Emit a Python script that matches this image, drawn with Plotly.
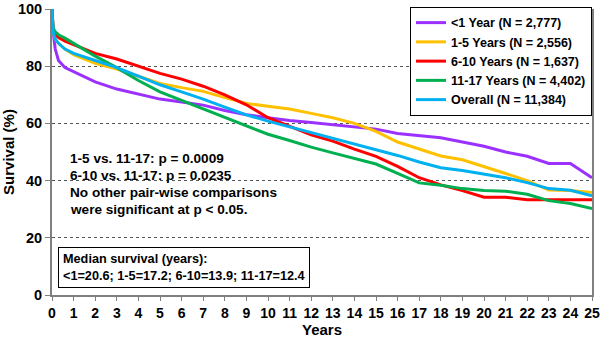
import plotly.graph_objects as go

years = [0, 0.05, 0.15, 0.3, 0.6, 1, 2, 3, 4, 5, 6, 7, 8, 9, 10, 11, 12, 13, 14, 15,
         16, 17, 18, 19, 20, 21, 22, 23, 24, 25]

lt1 = [100, 92, 86, 82, 79.5, 78, 74.5, 72, 70.2, 68.5, 67.5, 66.4, 64.5, 63, 62, 61,
       60.3, 59.5, 58.8, 58, 56.5, 55.8, 55, 53.5, 52, 50, 48.5, 46, 46, 41]
y1_5 = [100, 92, 89.5, 88, 86, 84, 81, 79, 76.5, 74, 72.5, 71.2, 69, 67, 66, 65,
        63.5, 62, 60, 57.2, 53.5, 51, 48.6, 47.3, 45, 42.5, 40, 36.7, 36.5, 35.8]
y6_10 = [100, 93, 91, 90, 88.8, 87.5, 84.5, 82.5, 80, 77.5, 75.5, 73, 70, 66.5, 62, 59,
         56, 53.8, 51, 48.5, 45, 41, 38.5, 36.5, 34.2, 34.2, 33.3, 33.3, 33.3, 33.3]
y11_17 = [100, 93.5, 92, 91, 89.8, 88, 83.5, 79.5, 75, 71, 68, 65, 62, 59, 56.2, 54,
          51.7, 49.7, 47.8, 45.8, 42.5, 39.2, 38.4, 37.2, 36.5, 36.3, 35.2, 33, 32, 30.2]
overall = [100, 92, 89.5, 88, 86, 84.5, 82, 79.5, 76.5, 73.5, 71, 68.5, 65.7, 63, 60.8, 58.8,
           57, 54.9, 53, 51, 48.8, 46.5, 44.5, 43.5, 42.3, 41, 39.3, 37.2, 36.6, 34.7]

names = ["<1 Year (N = 2,777)", "1-5 Years (N = 2,556)", "6-10 Years (N = 1,637)",
         "11-17 Years (N = 4,402)", "Overall (N = 11,384)"]
series = [lt1, y1_5, y6_10, y11_17, overall]
colors = ["#9B30FF", "#FFC000", "#FF0000", "#00B050", "#00B0F0"]

stats_lines = ["1-5 vs. 11-17: p = 0.0009", "6-10 vs. 11-17: p = 0.0235",
               "No other pair-wise comparisons", "were significant at p < 0.05."]
stats_y = [47.6, 41.7, 35.8, 29.9]
median_text = "Median survival (years):<br><1=20.6; 1-5=17.2; 6-10=13.9; 11-17=12.4"

FONT = "Liberation Sans, Arial, sans-serif"

fig = go.Figure()
for n, s, c in zip(names, series, colors):
    fig.add_trace(go.Scatter(x=years, y=s, mode="lines", name=n,
                             line=dict(color=c, width=3)))

for t, yy in zip(stats_lines, stats_y):
    fig.add_annotation(x=0.029, xref="paper", y=yy, yref="y", text="<b>%s</b>" % t,
                       showarrow=False, xanchor="left", yanchor="middle",
                       font=dict(family=FONT, size=13.6, color="black"))

fig.add_annotation(x=0.011, xref="paper", y=2.4, yref="y", text="<b>%s</b>" % median_text,
                   showarrow=False, xanchor="left", yanchor="bottom", align="left",
                   bordercolor="black", borderwidth=1, borderpad=4, bgcolor="white",
                   font=dict(family=FONT, size=12.7, color="black"))

fig.add_annotation(x=0.5, xref="paper", y=-0.087, yref="paper", text="<b>Years</b>",
                   showarrow=False, xanchor="center", yanchor="top", height=16,
                   valign="middle", borderpad=0,
                   font=dict(family=FONT, size=15, color="black"))

fig.update_layout(
    width=600, height=338,
    margin=dict(l=52, r=8, t=7, b=43),
    plot_bgcolor="white", paper_bgcolor="white",
    font=dict(family=FONT, color="black"),
    showlegend=True,
    legend=dict(x=1, xanchor="right", y=1.007, yanchor="top",
                bordercolor="black", borderwidth=1, bgcolor="white",
                font=dict(family=FONT, size=12.5, color="black", weight="bold"),
                itemwidth=30, tracegroupgap=0),
    xaxis=dict(range=[0, 25], tickmode="linear", tick0=0, dtick=1, automargin=False,
               ticklabeloverflow="allow",
               showgrid=False, zeroline=False, showline=True, linecolor="#808080",
               linewidth=2, ticks="outside", ticklen=4, tickcolor="#808080",
               tickfont=dict(family=FONT, size=14, color="black", weight="bold")),
    yaxis=dict(range=[0, 100], tickmode="linear", tick0=0, dtick=20, automargin=False,
               ticklabeloverflow="allow",
               showgrid=True, gridcolor="#555555", griddash="dot", gridwidth=1,
               zeroline=False, showline=True, linecolor="#808080", linewidth=2,
               mirror=True, ticks="outside", ticklen=5, tickcolor="#808080",
               tickfont=dict(family=FONT, size=14.5, color="black", weight="bold"),
               title=dict(text="<b>Survival (%)</b>", font=dict(family=FONT, size=15),
                          standoff=6)),
)

fig.write_html("out.html")
